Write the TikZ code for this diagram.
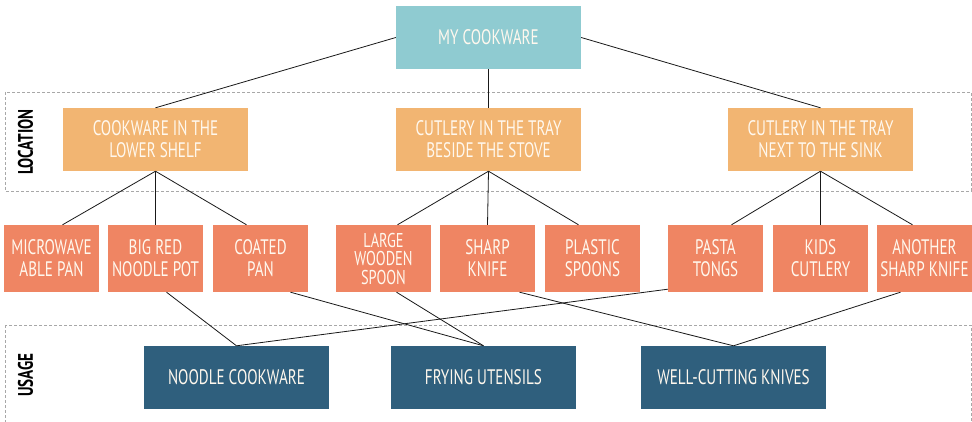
\documentclass[tikz,border=0pt]{standalone}
\usepackage{fontspec}
\setmainfont{PT Sans}[FakeStretch=0.72]
\definecolor{topfill}{HTML}{8FCBD1}
\definecolor{placefill}{HTML}{F2B572}
\definecolor{itemfill}{HTML}{EF8563}
\definecolor{usefill}{HTML}{2F5F7D}
\definecolor{framegray}{HTML}{A8A8A8}
\definecolor{boxtext}{HTML}{FFF8EE}
\tikzset{
  box/.style={inner sep=0pt, align=center, text=boxtext,
    font=\fontsize{21}{22}\selectfont},
  rootbox/.style={box, fill=topfill, minimum width=185, minimum height=63},
  placebox/.style={box, fill=placefill, minimum width=185, minimum height=63},
  itembox/.style={box, fill=itemfill, minimum width=95, minimum height=67},
  tightbox/.style={itembox, font=\fontsize{20}{18.5}\selectfont},
  usebox/.style={box, fill=usefill, minimum width=185, minimum height=63},
  groupframe/.style={draw=framegray, line width=0.8pt, dash pattern=on 3pt off 2pt},
  grouplabel/.style={rotate=90, font=\fontsize{21}{22}\selectfont\bfseries, text=black},
  link/.style={draw=black!90, line width=0.8pt}
}
\begin{document}
\begin{tikzpicture}[x=1pt, y=-1pt]
\clip (0,0) rectangle (972,422);
\fill[white] (0,0) rectangle (972,422);

% group frames
\draw[groupframe] (5,92) rectangle (971,191);
\draw[groupframe] (5,325) rectangle (971,430);
\node[grouplabel] (loclabel) at (25.5,142) {LOCATION};
\node[grouplabel] (uselabel) at (25.5,375) {USAGE};

% root
\node[rootbox] (root) at (488.5,37.5) {MY COOKWARE};

% locations
\node[placebox] (shelf) at (155.5,139.5) {COOKWARE IN THE\\LOWER SHELF};
\node[placebox] (stove) at (488.5,139.5) {CUTLERY IN THE TRAY\\BESIDE THE STOVE};
\node[placebox] (sink)  at (820.5,139.5) {CUTLERY IN THE TRAY\\NEXT TO THE SINK};

% items
\node[itembox] (micro)   at (51.5,258.5)  {MICROWAVE\\ABLE PAN};
\node[itembox] (pot)     at (155.5,258.5) {BIG RED\\NOODLE POT};
\node[itembox] (coated)  at (260.5,258.5) {COATED\\PAN};
\node[tightbox] (wooden) at (383.5,258.5) {LARGE\\WOODEN\\SPOON};
\node[itembox] (knife)   at (487.5,258.5) {SHARP\\KNIFE};
\node[itembox] (plastic) at (592.5,258.5) {PLASTIC\\SPOONS};
\node[itembox] (tongs)   at (715.5,258.5) {PASTA\\TONGS};
\node[itembox] (kids)    at (820.5,258.5) {KIDS\\CUTLERY};
\node[itembox] (another) at (924.5,258.5) {ANOTHER\\SHARP KNIFE};

% usages
\node[usebox] (noodle)  at (236.5,377.5) {NOODLE COOKWARE};
\node[usebox] (frying)  at (483.5,377.5) {FRYING UTENSILS};
\node[usebox] (cutting) at (733.5,377.5) {WELL-CUTTING KNIVES};

% root to locations
\draw[link] (root.west) -- (shelf.north);
\draw[link] (root.south) -- (stove.north);
\draw[link] (root.east) -- (sink.north);

% locations to items
\draw[link] (shelf.south) -- ([xshift=11]micro.north);
\draw[link] (shelf.south) -- (pot.north);
\draw[link] (shelf.south) -- ([xshift=-14]coated.north);
\draw[link] (stove.south) -- ([xshift=14]wooden.north);
\draw[link] (stove.south) -- (knife.north);
\draw[link] (stove.south) -- ([xshift=-14]plastic.north);
\draw[link] (sink.south) -- ([xshift=16]tongs.north);
\draw[link] (sink.south) -- (kids.north);
\draw[link] (sink.south) -- ([xshift=-12]another.north);

% items to usages
\draw[link] ([xshift=11]pot.south) -- (noodle.north);
\draw[link] ([yshift=3]tongs.south west) -- (noodle.north);
\draw[link] ([xshift=30]coated.south) -- (frying.north);
\draw[link] ([xshift=13]wooden.south) -- (frying.north);
\draw[link] ([xshift=32]knife.south) -- (cutting.north);
\draw[link] ([xshift=-24]another.south) -- (cutting.north);
\end{tikzpicture}
\end{document}
